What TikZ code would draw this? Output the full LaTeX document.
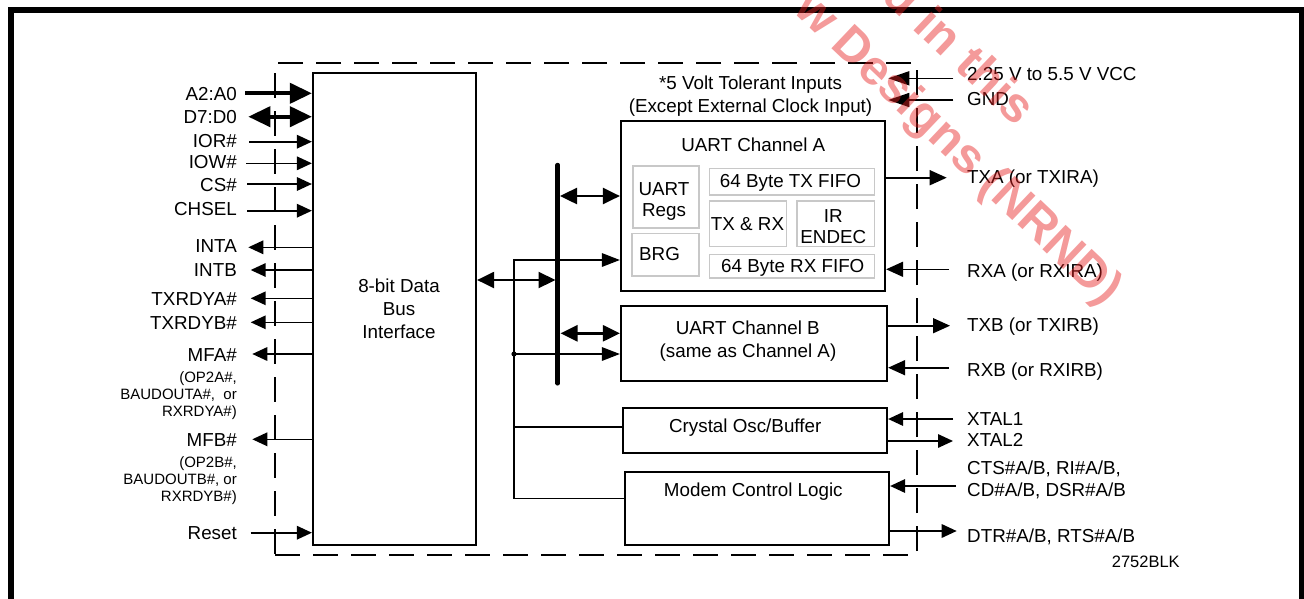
\documentclass[tikz,border=0pt]{standalone}
\usepackage{fontspec}
\setmainfont{Liberation Sans}
\usetikzlibrary{arrows.meta}
\definecolor{wmred}{RGB}{230,30,30}
\definecolor{subgray}{RGB}{200,200,200}
\begin{document}
\begin{tikzpicture}[x=1pt,y=-1pt,
  txt/.style={font=\fontsize{18.8}{22}\selectfont, inner sep=0pt, text height=13.6pt, text depth=0pt},
  sml/.style={font=\fontsize{15}{17}\selectfont, inner sep=0pt, text height=10.8pt, text depth=0pt},
  tag/.style={font=\fontsize{16.5}{18}\selectfont, inner sep=0pt, text height=12pt, text depth=0pt},
  box/.style={draw, line width=2.2pt, inner sep=0pt},
  subbox/.style={draw=subgray, line width=1.6pt, inner sep=0pt},
  sig/.style={line width=1.6pt},
  thk/.style={line width=4pt},
  tipA/.style={-{Triangle[length=15pt,width=13.5pt]}},
  tipT/.style={-{Triangle[length=22pt,width=20pt]}},
  dblT/.style={{Triangle[length=22pt,width=20pt]}-{Triangle[length=22pt,width=20pt]}},
  dblB/.style={{Triangle[length=17pt,width=16pt]}-{Triangle[length=17pt,width=16pt]}},
  tipC/.style={-{Triangle[length=18pt,width=13.5pt]}},
  tipR/.style={-{Triangle[length=17pt,width=15pt]}},
  tipV/.style={-{Triangle[length=21pt,width=14pt]}},
  wm/.style={font=\fontsize{49}{49}\selectfont\bfseries, text=wmred, text opacity=0.45, inner sep=0pt}
]
\useasboundingbox (0,0) rectangle (1304,598);

% outer frame
\begin{scope}
  \clip (0,0) rectangle (1304,598);
  \draw[line width=6pt] (11,640) -- (11,10) -- (1302,10) -- (1302,640);
\end{scope}

% dashed chip outline
\node[draw, line width=1.5pt, dash pattern=on 25pt off 13pt, minimum width=642pt, minimum height=492pt, inner sep=0pt] (chip) at (596,309) {};

% main boxes
\node[box, minimum width=163pt, minimum height=472pt] (bus) at (394.5,309) {};
\node[box, minimum width=264pt, minimum height=170pt] (uA) at (753,206) {};
\node[box, minimum width=266pt, minimum height=75pt] (uB) at (754,343.5) {};
\node[box, minimum width=264pt, minimum height=45pt] (xo) at (755,430.5) {};
\node[box, minimum width=264pt, minimum height=73pt] (mdm) at (757,508.5) {};

% sub boxes of UART A
\node[subbox, minimum width=66pt, minimum height=62pt] (regs) at (665.7,196.7) {};
\node[subbox, minimum width=67pt, minimum height=42.7pt] (brg) at (665.2,254.7) {};
\node[subbox, minimum width=165pt, minimum height=26.4pt] (txf) at (791.8,181.5) {};
\node[subbox, minimum width=77pt, minimum height=45.7pt] (txrx) at (747.8,223.8) {};
\node[subbox, minimum width=77.3pt, minimum height=45.7pt] (ir) at (835.7,223.8) {};
\node[subbox, minimum width=165pt, minimum height=23.4pt] (rxf) at (791.8,266) {};

% texts in boxes
\node[txt] (t8a) at (399,285.5) {8-bit Data};
\node[txt] (t8b) at (399,309) {Bus};
\node[txt] (t8c) at (399,332) {Interface};
\node[txt] (tv1) at (750.5,82.7) {*5 Volt Tolerant Inputs};
\node[txt] (tv2) at (750.5,106) {(Except External Clock Input)};
\node[txt] (tuA) at (753.3,145) {UART Channel A};
\node[txt] (tr1) at (664,188.3) {UART};
\node[txt] (tr2) at (664,210) {Regs};
\node[txt] (tbrg) at (659.5,253.3) {BRG};
\node[txt] (ttxf) at (790.5,180.7) {64 Byte TX FIFO};
\node[txt] (ttxrx) at (747.5,223.3) {TX \& RX};
\node[txt] (tir1) at (833.3,216) {IR};
\node[txt] (tir2) at (833.3,236.7) {ENDEC};
\node[txt] (trxf) at (792.8,265.7) {64 Byte RX FIFO};
\node[txt] (tuB1) at (747.8,327.3) {UART Channel B};
\node[txt] (tuB2) at (748,350.7) {(same as Channel A)};
\node[txt] (txo) at (745.2,425.7) {Crystal Osc/Buffer};
\node[txt] (tmdm) at (753.3,490) {Modem Control Logic};

% left labels
\node[txt, anchor=east] (lA2) at (237,94) {A2:A0};
\node[txt, anchor=east] (lD7) at (237,117) {D7:D0};
\node[txt, anchor=east] (lIOR) at (237,141) {IOR\#};
\node[txt, anchor=east] (lIOW) at (237,162) {IOW\#};
\node[txt, anchor=east] (lCS) at (237,185) {CS\#};
\node[txt, anchor=east] (lCH) at (237,208.3) {CHSEL};
\node[txt, anchor=east] (lINTA) at (237,245.3) {INTA};
\node[txt, anchor=east] (lINTB) at (237,270) {INTB};
\node[txt, anchor=east] (lTXA) at (237,298.3) {TXRDYA\#};
\node[txt, anchor=east] (lTXB) at (237,323) {TXRDYB\#};
\node[txt, anchor=east] (lMFA) at (237,355) {MFA\#};
\node[sml, anchor=east] (lMFA1) at (237,376.7) {(OP2A\#,};
\node[sml, anchor=east] (lMFA2) at (237,394.3) {BAUDOUTA\#,\ \ or};
\node[sml, anchor=east] (lMFA3) at (237,411) {RXRDYA\#)};
\node[txt, anchor=east] (lMFB) at (237,440) {MFB\#};
\node[sml, anchor=east] (lMFB1) at (237,461.7) {(OP2B\#,};
\node[sml, anchor=east] (lMFB2) at (237,479) {BAUDOUTB\#, or};
\node[sml, anchor=east] (lMFB3) at (237,496) {RXRDYB\#)};
\node[txt, anchor=east] (lRST) at (237,532.5) {Reset};

% right labels
\node[txt, anchor=west] (rVCC) at (967,73.3) {2.25 V to 5.5 V VCC};
\node[txt, anchor=west] (rGND) at (967,99) {GND};
\node[txt, anchor=west] (rTXA) at (967,176.7) {TXA (or TXIRA)};
\node[txt, anchor=west] (rRXA) at (967,270.7) {RXA (or RXIRA)};
\node[txt, anchor=west] (rTXB) at (967,324.3) {TXB (or TXIRB)};
\node[txt, anchor=west] (rRXB) at (967,369.3) {RXB (or RXIRB)};
\node[txt, anchor=west] (rX1) at (967,418.3) {XTAL1};
\node[txt, anchor=west] (rX2) at (967,440) {XTAL2};
\node[txt, anchor=west] (rCTS) at (967,467.7) {CTS\#A/B, RI\#A/B,};
\node[txt, anchor=west] (rCD) at (967,489.3) {CD\#A/B, DSR\#A/B};
\node[txt, anchor=west] (rDTR) at (967,535.7) {DTR\#A/B, RTS\#A/B};
\node[tag] (code) at (1145.8,561.7) {2752BLK};

% left signal coordinates
\coordinate (a2s) at (245,93.3);
\coordinate (d7s) at (248.3,116.7);
\coordinate (iors) at (249.3,141.7);
\coordinate (iows) at (246,163.3);
\coordinate (css) at (247.3,184);
\coordinate (chs) at (247.3,210.7);
\coordinate (intat) at (248.3,247.3);
\coordinate (intbt) at (250.7,270);
\coordinate (txat) at (250.7,298.3);
\coordinate (txbt) at (250.7,322.3);
\coordinate (mfat) at (252.3,354);
\coordinate (mfbt) at (252.3,439.3);
\coordinate (rsts) at (250.7,532.7);

\draw[thk, tipT] (a2s) -- (a2s -| bus.west);
\draw[thk, dblT] (d7s) -- (d7s -| bus.west);
\draw[sig, tipA] (iors) -- (iors -| bus.west);
\draw[sig, tipA] (iows) -- (iows -| bus.west);
\draw[sig, tipA] (css) -- (css -| bus.west);
\draw[sig, tipA] (chs) -- (chs -| bus.west);
\draw[sig, tipA] (intat -| bus.west) -- (intat);
\draw[sig, tipA] (intbt -| bus.west) -- (intbt);
\draw[sig, tipA] (txat -| bus.west) -- (txat);
\draw[sig, tipA] (txbt -| bus.west) -- (txbt);
\draw[sig, tipA] (mfat -| bus.west) -- (mfat);
\draw[sig, tipA] (mfbt -| bus.west) -- (mfbt);
\draw[sig, tipA] (rsts) -- (rsts -| bus.west);

% right signal coordinates
\coordinate (vccs) at (953.3,78.3);
\coordinate (vcct) at (888.3,78.3);
\coordinate (gnds) at (953.3,100);
\coordinate (gndt) at (888.3,100);
\coordinate (txa) at (946.7,177.7);
\coordinate (rxa) at (949,269.3);
\coordinate (txb) at (950,325.7);
\coordinate (rxb) at (949,367.7);
\coordinate (x1) at (953,419);
\coordinate (x2) at (953,441);
\coordinate (cts) at (956,486);
\coordinate (dtr) at (956.7,531);

\draw[sig, tipV] (vccs) -- (vcct);
\draw[sig, tipV] (gnds) -- (gndt);
\draw[sig, tipR] (uA.east |- txa) -- (txa);
\draw[sig, tipR] (rxa) -- (rxa -| uA.east);
\draw[sig, tipR] (uB.east |- txb) -- (txb);
\draw[sig, tipR] (rxb) -- (rxb -| uB.east);
\draw[sig, tipA] (x1) -- (x1 -| xo.east);
\draw[sig, tipA] (xo.east |- x2) -- (x2);
\draw[sig, tipA] (cts) -- (cts -| mdm.east);
\draw[sig, tipA] (mdm.east |- dtr) -- (dtr);

% internal control lines
\coordinate (ct) at (514,260);
\coordinate (cj) at (514,354);
\coordinate (cx) at (514,426.7);
\coordinate (cb) at (514,498.3);
\draw[sig, tipC] (mdm.west |- cb) -- (cb) -- (ct) -- (ct -| uA.west);
\draw[sig, tipC] (cj) -- (cj -| uB.west);
\draw[sig] (cx) -- (cx -| xo.west);
\fill (cj) circle (2.6pt);

% internal bus
\coordinate (bbT) at (557.7,165);
\coordinate (bbB) at (557.7,383.3);
\coordinate (j0) at (555.5,280);
\coordinate (j1) at (560,196);
\coordinate (j2) at (560.5,333.3);
\draw[line width=2.2pt, dblB] (bus.east |- j0) -- (j0);
\draw[line width=2.5pt, dblB] (j1) -- (j1 -| uA.west);
\draw[line width=2.5pt, dblB] (j2) -- (j2 -| uB.west);
\draw[line width=4.5pt, line cap=round] (bbT) -- (bbB);

% watermark
\begin{scope}
  \clip (0,0) rectangle (1304,598);
  \node[wm, anchor=base west, rotate=-43.5] (wm1) at (880,-2) {d in this};
  \node[wm, anchor=base west, rotate=-43.5] (wm2) at (792,11) {w Designs (NRND)};
\end{scope}
\end{tikzpicture}
\end{document}
